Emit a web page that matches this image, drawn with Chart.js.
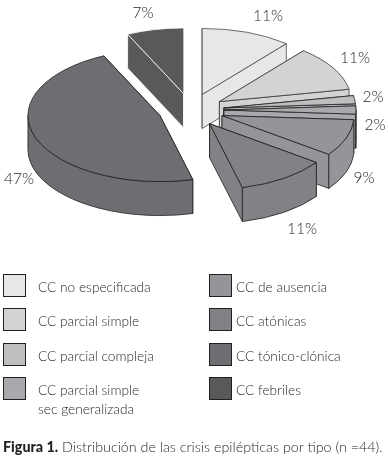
<!DOCTYPE html>
<html lang="es">
<head>
<meta charset="utf-8">
<title>Figura 1</title>
<script src="https://cdn.jsdelivr.net/npm/chart.js@4"></script>
<style>
  body { margin: 0; background: #fff; font-family: Lato, sans-serif; color: #231f20; }
  #wrap { position: relative; width: 388px; height: 459px; overflow: hidden; }
  canvas { position: absolute; left: 0; top: 0; }
  .box { position: absolute; width: 21px; height: 21px; border: 1px solid #231f20; box-sizing: content-box; }
  .txt { position: absolute; font-size: 13.7px; line-height: 19px; font-weight: 300; white-space: nowrap; }
  #caption { position: absolute; left: 3px; top: 438px; font-size: 14.3px; font-weight: 300; white-space: nowrap; }
  #caption b { font-weight: 900; }
</style>
</head>
<body>
<div id="wrap">
  <canvas id="pie" width="388" height="459"></canvas>
  <div id="legend"></div>
  <div id="caption"><b>Figura 1.</b> Distribución de las crisis epilépticas por tipo (n =44).</div>
</div>
<script>
// Datos de la figura
const categories = [
  "CC no especificada",
  "CC parcial simple",
  "CC parcial compleja",
  "CC parcial simple\nsec generalizada",
  "CC de ausencia",
  "CC atónicas",
  "CC tónico-clónica",
  "CC febriles",
];
const percents = [11, 11, 2, 2, 9, 11, 47, 7];
const colors = ["#e6e7e8", "#d1d3d4", "#bcbec0", "#a7a9ac", "#939598", "#808285", "#6d6e71", "#58595b"];
const borders = ["#4a4a4c", "#3a3a3c", "#231f20", "#231f20", "#231f20", "#231f20", "#231f20", "#ffffff"];

// Sitio de cada rotulo de porcentaje
const labelSpots = [
  [268, 16], [355, 58], [373, 97], [375, 125], [364, 178], [302, 229], [19, 179], [143, 13],
];

const TILT = 0.5; // aplastamiento del circulo
const DEPTH = 34; // grosor del pastel
const EXPLODE = 33; // separacion de cada porcion

// Pinta cada arco del controlador como porcion en 3D
const pie3d = {
  id: "pie3d",
  beforeDatasetDraw(chart, args) {
    const ctx = chart.ctx;
    args.meta.data.forEach((arc, i) => {
      const r = arc.outerRadius;
      const mid = (arc.startAngle + arc.endAngle) / 2;
      const x = arc.x + Math.cos(mid) * EXPLODE;
      const y = arc.y + Math.sin(mid) * EXPLODE * TILT;
      const rim = (a) => [x + r * Math.cos(a), y + r * Math.sin(a) * TILT];

      ctx.save();
      ctx.fillStyle = arc.options.backgroundColor;
      ctx.strokeStyle = arc.options.borderColor;
      ctx.lineWidth = arc.options.borderWidth;
      ctx.lineJoin = "round";

      // caras de corte
      [arc.startAngle, arc.endAngle].forEach((a) => {
        const [px, py] = rim(a);
        ctx.beginPath();
        ctx.moveTo(x, y);
        ctx.lineTo(px, py);
        ctx.lineTo(px, py + DEPTH);
        ctx.lineTo(x, y + DEPTH);
        ctx.closePath();
        ctx.fill();
        ctx.stroke();
      });

      // pared exterior, solo la parte que mira al frente
      const a0 = Math.max(arc.startAngle, 0);
      const a1 = Math.min(arc.endAngle, Math.PI);
      if (a1 > a0) {
        ctx.beginPath();
        ctx.ellipse(x, y, r, r * TILT, 0, a0, a1);
        ctx.ellipse(x, y + DEPTH, r, r * TILT, 0, a1, a0, true);
        ctx.closePath();
        ctx.fill();
        ctx.stroke();
      }

      // cara superior
      ctx.beginPath();
      ctx.moveTo(x, y);
      ctx.ellipse(x, y, r, r * TILT, 0, arc.startAngle, arc.endAngle);
      ctx.closePath();
      ctx.fill();
      ctx.stroke();
      ctx.restore();
    });
    return false;
  },
  afterDraw(chart) {
    const ctx = chart.ctx;
    ctx.save();
    ctx.font = "300 15.5px Lato, sans-serif";
    ctx.fillStyle = "#231f20";
    ctx.textAlign = "center";
    ctx.textBaseline = "middle";
    percents.forEach((p, i) => {
      ctx.fillText(p + "%", labelSpots[i][0], labelSpots[i][1]);
    });
    ctx.restore();
  },
};

const pieChart = new Chart(document.getElementById("pie").getContext("2d"), {
  type: "pie",
  data: {
    labels: categories,
    datasets: [
      {
        data: percents,
        backgroundColor: colors,
        borderColor: borders,
        borderWidth: 0.8,
      },
    ],
  },
  options: {
    responsive: false,
    animation: false,
    radius: 132,
    layout: { padding: { left: 0, right: 6, top: 0, bottom: 239 } },
    plugins: {
      legend: { display: false },
      tooltip: { enabled: false },
    },
  },
  plugins: [pie3d],
});

// Leyenda en dos columnas
const legendBox = document.getElementById("legend");
const rowTops = [274, 308, 343, 377];
categories.forEach((name, i) => {
  const col = i < 4 ? 0 : 1;
  const top = rowTops[i % 4];
  const box = document.createElement("div");
  box.className = "box";
  box.style.left = (col ? 209 : 3) + "px";
  box.style.top = top + "px";
  box.style.background = colors[i];
  legendBox.appendChild(box);

  const txt = document.createElement("div");
  txt.className = "txt";
  txt.style.left = (col ? 236 : 38) + "px";
  txt.style.top = top + 3 + "px";
  txt.innerHTML = name.replace("\n", "<br>");
  legendBox.appendChild(txt);
});
</script>
</body>
</html>
